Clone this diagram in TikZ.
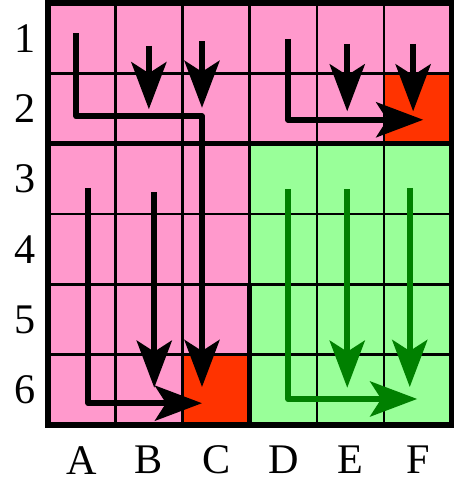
\documentclass[tikz,border=0pt]{standalone}
\usepackage{fontspec}
\setmainfont{Liberation Serif}
\usetikzlibrary{arrows.meta}
\definecolor{cellpink}{HTML}{FF99CC}
\definecolor{cellred}{HTML}{FF3300}
\definecolor{cellgreen}{HTML}{99FF99}
\definecolor{pathgreen}{HTML}{008000}

\begin{document}
\begin{tikzpicture}[x=1.345cm,y=-1.4067cm,
    gridline/.style={line width=0.05cm},
    boldline/.style={line width=0.11cm},
    move/.style={line width=0.12cm,line join=round,-{Stealth[length=0.94cm,width=0.7cm,inset=0.22cm]}},
    lbl/.style={font=\fontsize{24}{28}\selectfont,inner sep=0pt}]
  \useasboundingbox (-0.714,-0.043) rectangle (6.037,6.768);
  \fill[cellpink] (0,0) rectangle (6,6);
  \fill[cellgreen] (3,2) rectangle (6,6);
  \fill[cellred] (5,1) rectangle (6,2);
  \fill[cellred] (2,5) rectangle (3,6);
  \foreach \i in {1,...,5} {
    \draw[gridline] (\i,0) -- (\i,6);
    \draw[gridline] (0,\i) -- (6,\i);
  }
  \draw[boldline] (0,2) -- (6,2);
  \draw[boldline] (3,4) -- (3,6);
  \draw[boldline] (0,0) rectangle (6,6);

  \node[lbl](r1)at(-0.34,0.5){1};
  \node[lbl](r2)at(-0.34,1.5){2};
  \node[lbl](r3)at(-0.34,2.5){3};
  \node[lbl](r4)at(-0.34,3.5){4};
  \node[lbl](r5)at(-0.34,4.5){5};
  \node[lbl](r6)at(-0.34,5.5){6};
  \node[lbl](cA)at(0.5,6.5){A};
  \node[lbl](cB)at(1.5,6.5){B};
  \node[lbl](cC)at(2.5,6.5){C};
  \node[lbl](cD)at(3.5,6.5){D};
  \node[lbl](cE)at(4.5,6.5){E};
  \node[lbl](cF)at(5.5,6.5){F};

  \coordinate (s1) at (0.42,0.43);
  \coordinate (k1) at (2.29,1.61);
  \coordinate (e1) at (2.29,5.46);
  \coordinate (s2) at (1.50,0.61);
  \coordinate (e2) at (1.50,1.51);
  \coordinate (s3) at (2.29,0.54);
  \coordinate (e3) at (2.29,1.49);
  \coordinate (s4) at (3.57,0.51);
  \coordinate (e4) at (5.58,1.66);
  \coordinate (s5) at (4.45,0.58);
  \coordinate (e5) at (4.45,1.54);
  \coordinate (s6) at (5.43,0.58);
  \coordinate (e6) at (5.43,1.54);
  \coordinate (s7) at (0.60,2.63);
  \coordinate (e7) at (2.29,5.69);
  \coordinate (s8) at (1.58,2.69);
  \coordinate (e8) at (1.58,5.47);
  \coordinate (s9) at (3.57,2.65);
  \coordinate (e9) at (5.49,5.63);
  \coordinate (s10) at (4.45,2.65);
  \coordinate (e10) at (4.45,5.47);
  \coordinate (s11) at (5.38,2.63);
  \coordinate (e11) at (5.38,5.46);

  \draw[move] (s1) |- (k1) -- (e1);
  \draw[move] (s2) -- (e2);
  \draw[move] (s3) -- (e3);
  \draw[move] (s4) |- (e4);
  \draw[move] (s5) -- (e5);
  \draw[move] (s6) -- (e6);
  \draw[move] (s7) |- (e7);
  \draw[move] (s8) -- (e8);
  \draw[move,pathgreen] (s9) |- (e9);
  \draw[move,pathgreen] (s10) -- (e10);
  \draw[move,pathgreen] (s11) -- (e11);
\end{tikzpicture}
\end{document}
